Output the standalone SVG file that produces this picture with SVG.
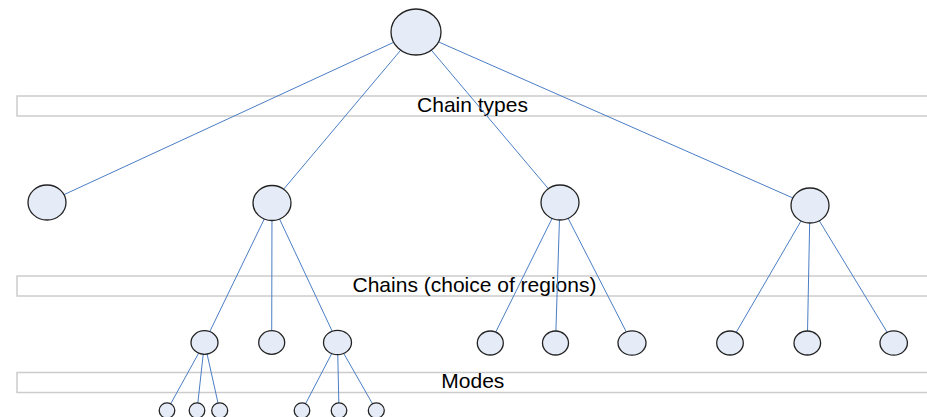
<svg xmlns="http://www.w3.org/2000/svg" width="927" height="417" viewBox="0 0 927 417">
  <style>
    .band { fill: none; stroke: #cccccc; stroke-width: 1.5; }
    .label { font-family: "Liberation Sans", Arial, sans-serif; font-size: 21px; fill: #000000; text-anchor: middle; }
    .edge { stroke: #4a7ec4; stroke-width: 1; fill: none; }
    .node { fill: #e6ecf7; stroke: #222222; stroke-width: 1.3; }
  </style>

  <!-- level bands -->
  <g id="bands">
    <rect class="band" x="17" y="96" width="912" height="20"/>
    <rect class="band" x="17" y="276" width="912" height="20"/>
    <rect class="band" x="17" y="372.5" width="912" height="20"/>
  </g>

  <!-- band labels -->
  <g id="labels">
    <text class="label" x="472.5" y="112">Chain types</text>
    <text class="label" x="474.5" y="292">Chains (choice of regions)</text>
    <text class="label" x="472.8" y="388">Modes</text>
  </g>

  <!-- tree edges, centre to centre; nodes are drawn over the ends -->
  <g id="connectors">
    <line class="edge" x1="416" y1="32" x2="47" y2="202.5"/>
    <line class="edge" x1="416" y1="32" x2="272" y2="203"/>
    <line class="edge" x1="416" y1="32" x2="560" y2="202.5"/>
    <line class="edge" x1="416" y1="32" x2="810" y2="205.5"/>

    <line class="edge" x1="272" y1="203" x2="204.5" y2="342.5"/>
    <line class="edge" x1="272" y1="203" x2="271.7" y2="342.5"/>
    <line class="edge" x1="272" y1="203" x2="337.5" y2="342.5"/>

    <line class="edge" x1="560" y1="202.5" x2="490.3" y2="343"/>
    <line class="edge" x1="560" y1="202.5" x2="555.5" y2="343"/>
    <line class="edge" x1="560" y1="202.5" x2="632" y2="343"/>

    <line class="edge" x1="810" y1="205.5" x2="730" y2="343"/>
    <line class="edge" x1="810" y1="205.5" x2="807.3" y2="343"/>
    <line class="edge" x1="810" y1="205.5" x2="893.7" y2="343"/>

    <line class="edge" x1="204.5" y1="342.5" x2="167" y2="410.5"/>
    <line class="edge" x1="204.5" y1="342.5" x2="197" y2="410.5"/>
    <line class="edge" x1="204.5" y1="342.5" x2="219.7" y2="410.5"/>

    <line class="edge" x1="337.5" y1="342.5" x2="302" y2="410.5"/>
    <line class="edge" x1="337.5" y1="342.5" x2="339" y2="410.5"/>
    <line class="edge" x1="337.5" y1="342.5" x2="376.3" y2="410.5"/>
  </g>

  <!-- root -->
  <g id="root"><ellipse class="node" cx="416" cy="32" rx="25" ry="23"/></g>

  <!-- chain types -->
  <g id="type-1"><ellipse class="node" cx="47" cy="202.5" rx="19" ry="17.5"/></g>
  <g id="type-2"><ellipse class="node" cx="272" cy="203" rx="19" ry="17.5"/></g>
  <g id="type-3"><ellipse class="node" cx="560" cy="202.5" rx="19" ry="17.5"/></g>
  <g id="type-4"><ellipse class="node" cx="810" cy="205.5" rx="19" ry="17.5"/></g>

  <!-- chains -->
  <g id="chain-2-1"><ellipse class="node" cx="204.5" cy="342.5" rx="13.5" ry="11.8"/></g>
  <g id="chain-2-2"><ellipse class="node" cx="271.7" cy="342.5" rx="13" ry="11.8"/></g>
  <g id="chain-2-3"><ellipse class="node" cx="337.5" cy="342.5" rx="14" ry="12.2"/></g>
  <g id="chain-3-1"><ellipse class="node" cx="490.3" cy="343" rx="13" ry="12"/></g>
  <g id="chain-3-2"><ellipse class="node" cx="555.5" cy="343" rx="13" ry="12"/></g>
  <g id="chain-3-3"><ellipse class="node" cx="632" cy="343" rx="14" ry="12.2"/></g>
  <g id="chain-4-1"><ellipse class="node" cx="730" cy="343" rx="13.3" ry="12"/></g>
  <g id="chain-4-2"><ellipse class="node" cx="807.3" cy="343" rx="13.3" ry="12"/></g>
  <g id="chain-4-3"><ellipse class="node" cx="893.7" cy="343" rx="13.7" ry="12.2"/></g>

  <!-- modes -->
  <g id="mode-1"><ellipse class="node" cx="167" cy="410.5" rx="7.8" ry="7.6"/></g>
  <g id="mode-2"><ellipse class="node" cx="197" cy="410.5" rx="7.8" ry="7.6"/></g>
  <g id="mode-3"><ellipse class="node" cx="219.7" cy="410.5" rx="8" ry="7.6"/></g>
  <g id="mode-4"><ellipse class="node" cx="302" cy="410.5" rx="7.8" ry="7.6"/></g>
  <g id="mode-5"><ellipse class="node" cx="339" cy="410.5" rx="7.8" ry="7.6"/></g>
  <g id="mode-6"><ellipse class="node" cx="376.3" cy="410.5" rx="8" ry="7.6"/></g>
</svg>
